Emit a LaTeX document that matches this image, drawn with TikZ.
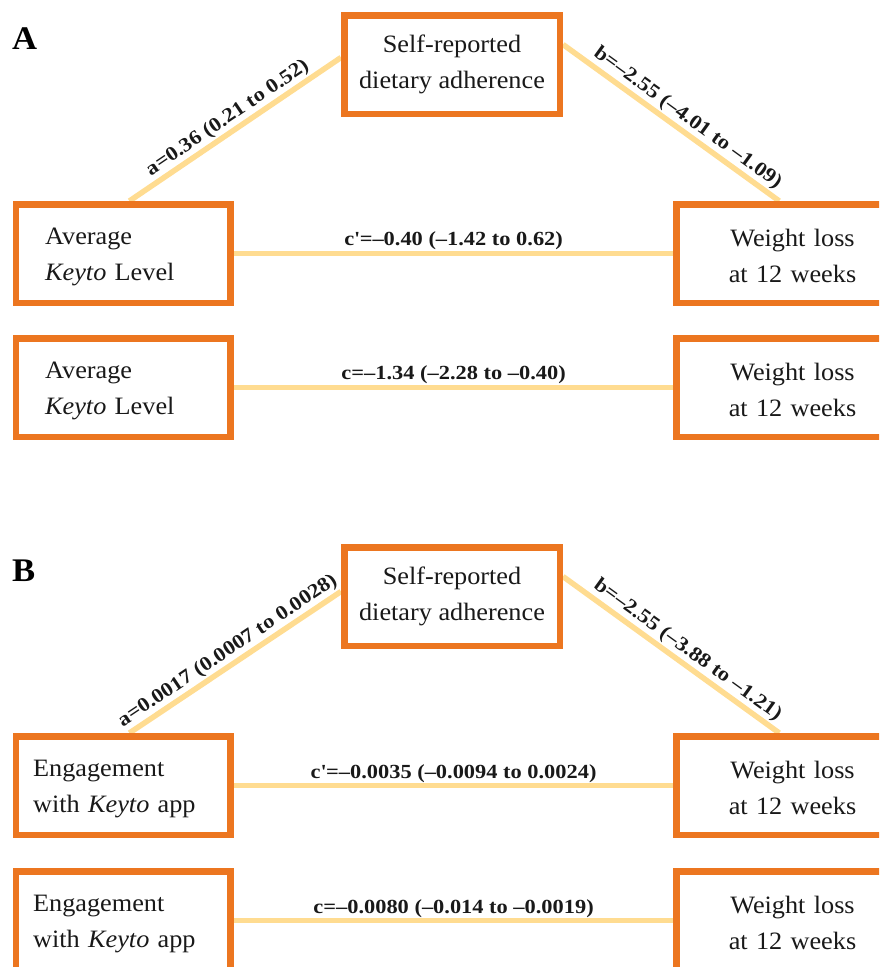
\documentclass[tikz,border=0pt]{standalone}
\usepackage{fontspec}
\setmainfont{Liberation Serif}[FakeStretch=1.05]
\newfontfamily\lblfont{Liberation Serif}[FakeStretch=1.12]
\usetikzlibrary{backgrounds}
\definecolor{boxorange}{RGB}{236,118,32}
\definecolor{linkyellow}{RGB}{255,220,145}
\begin{document}
\begin{tikzpicture}[x=1pt,y=-1pt,
 box/.style={draw=boxorange, line width=6.5pt, fill=white, minimum height=98.5pt,
   font=\fontsize{25}{36}\selectfont, text=black!90,
   execute at begin node={\rule{0pt}{23pt}}},
 topbox/.style={box, minimum width=215.5pt, align=center},
 leftAbox/.style={box, align=left, text width=156.5pt, inner xsep=29pt},
 leftBbox/.style={box, align=left, text width=180.5pt, inner xsep=17pt},
 rightbox/.style={box, align=center, text width=130pt, inner xsep=51pt, anchor=west},
 link/.style={draw=linkyellow, line width=5.5pt},
 lbl/.style={font=\lblfont\bfseries\fontsize{20}{22}\selectfont, inner sep=1.5pt, text=black!90},
 hlbl/.style={lbl, inner sep=0.5pt},
 panel/.style={font=\bfseries\fontsize{33}{33}\selectfont, anchor=base west, inner sep=0pt}
]
\useasboundingbox (0,0) rectangle (879,967);
\clip (0,0) rectangle (879,967);

% Panel A
\node[panel] (pA) at (12,49.5) {A};
\node[topbox] (tA) at (452,64.5) {Self-reported\\dietary adherence};
\node[leftAbox] (lA1) at (123.4,253.5) {Average\\\textit{Keyto} Level};
\node[rightbox] (rA1) at (673.25,253.5) {Weight loss\\at 12 weeks};
\node[leftAbox] (lA2) at (123.4,387.5) {Average\\\textit{Keyto} Level};
\node[rightbox] (rA2) at (673.25,387.5) {Weight loss\\at 12 weeks};

% Panel B
\node[panel] (pB) at (12,581.5) {B};
\node[topbox] (tB) at (452,596.5) {Self-reported\\dietary adherence};
\node[leftBbox] (lB1) at (123.4,785.5) {Engagement\\with \textit{Keyto} app};
\node[rightbox] (rB1) at (673.25,785.5) {Weight loss\\at 12 weeks};
\node[leftBbox] (lB2) at (123.4,920.5) {Engagement\\with \textit{Keyto} app};
\node[rightbox] (rB2) at (673.25,920.5) {Weight loss\\at 12 weeks};

\begin{scope}[on background layer]
\draw[link] ([xshift=6pt]lA1.north) -- node[lbl, sloped, above] {a=0.36 (0.21 to 0.52)} ([yshift=7pt]tA.west);
\draw[link] ([yshift=20pt]tA.east) -- node[lbl, sloped, above, pos=0.54] {b=–2.55 (–4.01 to –1.09)} ([xshift=106pt]rA1.north west);
\draw[link] (lA1.east) -- node[hlbl, above] {c\textquotesingle=–0.40 (–1.42 to 0.62)} (rA1.west);
\draw[link] (lA2.east) -- node[hlbl, above] {c=–1.34 (–2.28 to –0.40)} (rA2.west);

\draw[link] ([xshift=6pt]lB1.north) -- node[lbl, sloped, above] {a=0.0017 (0.0007 to 0.0028)} ([yshift=5pt]tB.west);
\draw[link] ([yshift=20pt]tB.east) -- node[lbl, sloped, above, pos=0.54] {b=–2.55 (–3.88 to –1.21)} ([xshift=106pt]rB1.north west);
\draw[link] (lB1.east) -- node[hlbl, above] {c\textquotesingle=–0.0035 (–0.0094 to 0.0024)} (rB1.west);
\draw[link] (lB2.east) -- node[hlbl, above] {c=–0.0080 (–0.014 to –0.0019)} (rB2.west);
\end{scope}
\end{tikzpicture}
\end{document}
